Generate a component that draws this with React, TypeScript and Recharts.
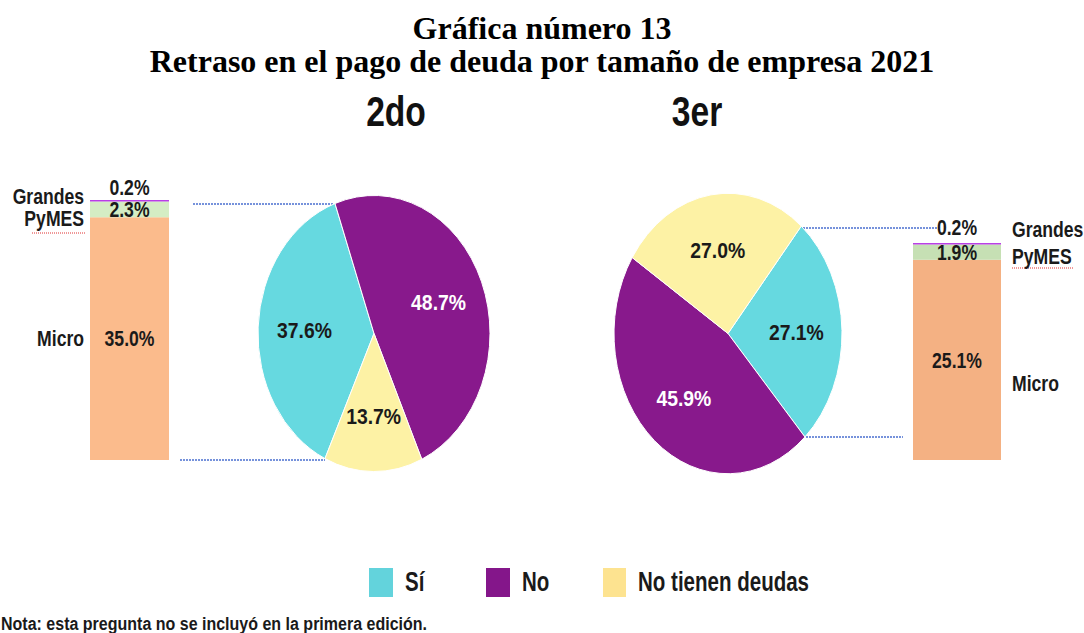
import { PieChart, Pie, Cell, BarChart, Bar, XAxis, YAxis, LabelList, Legend } from 'recharts';

// Respuestas (porcentaje de empresas)
const categories = ['Sí', 'No', 'No tienen deudas'];
const segundo = [37.6, 48.7, 13.7];
const tercero = [27.1, 45.9, 27.0];

// Desglose del "Sí" por tamaño de empresa
const sizes = ['Micro', 'PyMES', 'Grandes'];
const segundoSi = [35.0, 2.3, 0.2];
const terceroSi = [25.1, 1.9, 0.2];

const pieColors = ['#66d9e0', '#88198c', '#fdf2a5'];
const legendColors = ['#63d3dc', '#84168a', '#fde390'];
const barColorsL = ['#fbbb8c', '#d4edc4', '#b93fe6'];
const barColorsR = ['#f4b183', '#c6e0b4', '#b93fe6'];

const W = 1084;
const H = 633;
const RAD = Math.PI / 180;
const SANS = '"Liberation Sans", Arial, sans-serif';

const pieData = (vals: number[]) => categories.map((name, i) => ({ name, value: vals[i] }));
const barRow = (vals: number[]) => Object.fromEntries([['name', 'x'], ...sizes.map((s, i) => [s, vals[i]])]);
const sum = (vals: number[]) => vals.reduce((a, b) => a + b, 0);
const pct = (v: any) => `${Number(v).toFixed(1)}%`;

// no narrow font installed, so squeeze a bold sans horizontally
function NText({ x, y, s = 0.8, anchor = 'middle', size = 22, fill = '#1a1a1a', weight = 'bold', children }: any) {
  return (
    <text
      transform={`translate(${x},${y}) scale(${s},1)`}
      textAnchor={anchor}
      dominantBaseline="central"
      fontFamily={SANS}
      fontWeight={weight}
      fontSize={size}
      fill={fill}
    >
      {children}
    </text>
  );
}

// the original pies are stretched vertically, so sectors are drawn as ellipse slices
function ellipseSector(ratio: number) {
  return (props: any) => {
    const { cx, cy, outerRadius, startAngle, endAngle, fill } = props;
    const rx = outerRadius;
    const ry = outerRadius * ratio;
    const pt = (a: number) => [cx + rx * Math.cos(-a * RAD), cy + ry * Math.sin(-a * RAD)];
    const [x1, y1] = pt(startAngle);
    const [x2, y2] = pt(endAngle);
    const delta = endAngle - startAngle;
    const large = Math.abs(delta) > 180 ? 1 : 0;
    const sweep = delta < 0 ? 1 : 0;
    return (
      <path
        d={`M${cx},${cy}L${x1},${y1}A${rx},${ry} 0 ${large} ${sweep} ${x2},${y2}Z`}
        fill={fill}
        stroke="#ffffff"
        strokeWidth={1}
      />
    );
  };
}

function ellipseLabel(ratio: number) {
  return (props: any) => {
    const { cx, cy, midAngle, outerRadius, value, index } = props;
    const r = outerRadius * 0.6;
    const x = cx + r * Math.cos(-midAngle * RAD);
    const y = cy + r * ratio * Math.sin(-midAngle * RAD);
    return (
      <NText x={x} y={y} s={0.88} size={22} fill={index === 1 ? '#ffffff' : '#1a1a1a'}>
        {pct(value)}
      </NText>
    );
  };
}

type SegLayout = { valueDy: number; nameDy: number; above: boolean };

function segmentLabel(name: string, side: 'left' | 'right', lay: SegLayout) {
  return (props: any) => {
    const { x, y, width, height, value } = props;
    const vy = lay.above ? y + lay.valueDy : y + height / 2 + lay.valueDy;
    const ny = lay.above ? y + lay.nameDy : y + height / 2 + lay.nameDy;
    const nx = side === 'left' ? x - 6 : x + width + 11;
    return (
      <g>
        <NText x={x + width / 2} y={vy} s={0.8}>
          {pct(value)}
        </NText>
        <NText x={nx} y={ny} s={0.8} anchor={side === 'left' ? 'end' : 'start'}>
          {name}
        </NText>
      </g>
    );
  };
}

const leftLayout: SegLayout[] = [
  { valueDy: 0, nameDy: 0, above: false },
  { valueDy: 0, nameDy: 9, above: false },
  { valueDy: -13, nameDy: -4, above: true },
];
const rightLayout: SegLayout[] = [
  { valueDy: 0, nameDy: 23, above: false },
  { valueDy: 0, nameDy: 4, above: false },
  { valueDy: -16, nameDy: -14, above: true },
];

function renderLegend(props: any) {
  const names: string[] = (props.payload || []).map((p: any) => p.value);
  const items = categories.filter((c) => names.includes(c));
  return (
    <div style={{ display: 'flex', alignItems: 'center', whiteSpace: 'nowrap' }}>
      {items.map((c, i) => (
        <div key={c} style={{ display: 'flex', alignItems: 'center', width: i < 2 ? 117 : 260 }}>
          <div style={{ width: 24, height: 29, background: legendColors[categories.indexOf(c)] }} />
          <span
            style={{
              marginLeft: 12,
              fontFamily: SANS,
              fontWeight: 'bold',
              fontSize: 27,
              color: '#1a1a1a',
              display: 'inline-block',
              transform: 'scaleX(0.76)',
              transformOrigin: 'left center',
            }}
          >
            {c}
          </span>
        </div>
      ))}
    </div>
  );
}

function StackBar({ vals, colors, layout, side, plot }: any) {
  const total = sum(vals);
  return (
    <div style={{ position: 'absolute', left: 0, top: 0 }}>
      <BarChart
        width={W}
        height={H}
        data={[barRow(vals)]}
        margin={{ top: plot.top, bottom: H - plot.bottom, left: plot.left, right: W - plot.right }}
        barCategoryGap={0}
        style={{ overflow: 'visible' }}
      >
        <XAxis dataKey="name" hide />
        <YAxis hide domain={[0, total]} />
        {sizes.map((s, i) => (
          <Bar key={s} dataKey={s} stackId="a" fill={colors[i]} isAnimationActive={false}>
            <LabelList dataKey={s} content={segmentLabel(s, side, layout[i])} />
          </Bar>
        ))}
      </BarChart>
    </div>
  );
}

export default function App() {
  return (
    <div style={{ position: 'absolute', left: 0, top: 0, width: W, height: H, background: '#ffffff', overflow: 'hidden' }}>
      <div
        style={{
          position: 'absolute',
          left: 0,
          top: 12,
          width: W,
          textAlign: 'center',
          fontFamily: '"Liberation Serif", "Times New Roman", serif',
          fontWeight: 'bold',
          fontSize: 32,
          lineHeight: '33px',
          color: '#000',
        }}
      >
        <div>Gráfica número 13</div>
        <div>Retraso en el pago de deuda por tamaño de empresa 2021</div>
      </div>

      <svg width={W} height={H} style={{ position: 'absolute', left: 0, top: 0 }}>
        <NText x={396} y={112} s={0.8} size={42} weight="bold" fill="#111">
          2do
        </NText>
        <NText x={697} y={112} s={0.8} size={42} weight="bold" fill="#111">
          3er
        </NText>
        <g stroke="#4a6fd0" strokeWidth={1.5} strokeDasharray="2 1">
          <line x1={193} y1={204} x2={333} y2={204} />
          <line x1={180} y1={460} x2={325} y2={460} />
          <line x1={800} y1={228} x2={938} y2={228} />
          <line x1={806} y1={437} x2={903} y2={437} />
        </g>
        <g stroke="#e03030" strokeWidth={1} strokeDasharray="1 1">
          <line x1={32} y1={233} x2={86} y2={233} />
          <line x1={1012} y1={268} x2={1074} y2={268} />
        </g>
        <text
          x={1}
          y={624}
          dominantBaseline="central"
          fontFamily={SANS}
          fontWeight="bold"
          fontSize={18}
          fill="#1a1a1a"
          textLength={426}
          lengthAdjust="spacingAndGlyphs"
        >
          Nota: esta pregunta no se incluyó en la primera edición.
        </text>
      </svg>

      <StackBar vals={segundoSi} colors={barColorsL} layout={leftLayout} side="left" plot={{ top: 200, bottom: 460, left: 90, right: 169 }} />
      <StackBar vals={terceroSi} colors={barColorsR} layout={rightLayout} side="right" plot={{ top: 243, bottom: 460, left: 913, right: 1001 }} />

      <div style={{ position: 'absolute', left: 0, top: 0 }}>
        <PieChart width={W} height={H} margin={{ top: 0, right: 0, bottom: 0, left: 0 }}>
          <Pie
            data={pieData(segundo)}
            dataKey="value"
            nameKey="name"
            cx={374}
            cy={333.5}
            outerRadius={116}
            startAngle={245}
            endAngle={-115}
            shape={ellipseSector(1.19)}
            label={ellipseLabel(1.19)}
            labelLine={false}
            isAnimationActive={false}
          >
            {categories.map((c, i) => (
              <Cell key={c} fill={pieColors[i]} />
            ))}
          </Pie>
          <Pie
            data={pieData(tercero)}
            dataKey="value"
            nameKey="name"
            cx={728}
            cy={333.5}
            outerRadius={114}
            startAngle={50}
            endAngle={-310}
            shape={ellipseSector(1.23)}
            label={ellipseLabel(1.23)}
            labelLine={false}
            legendType="none"
            isAnimationActive={false}
          >
            {categories.map((c, i) => (
              <Cell key={c} fill={pieColors[i]} />
            ))}
          </Pie>
          <Legend content={renderLegend} wrapperStyle={{ position: 'absolute', left: 369, top: 567, width: 520, bottom: 'auto' }} />
        </PieChart>
      </div>
    </div>
  );
}
